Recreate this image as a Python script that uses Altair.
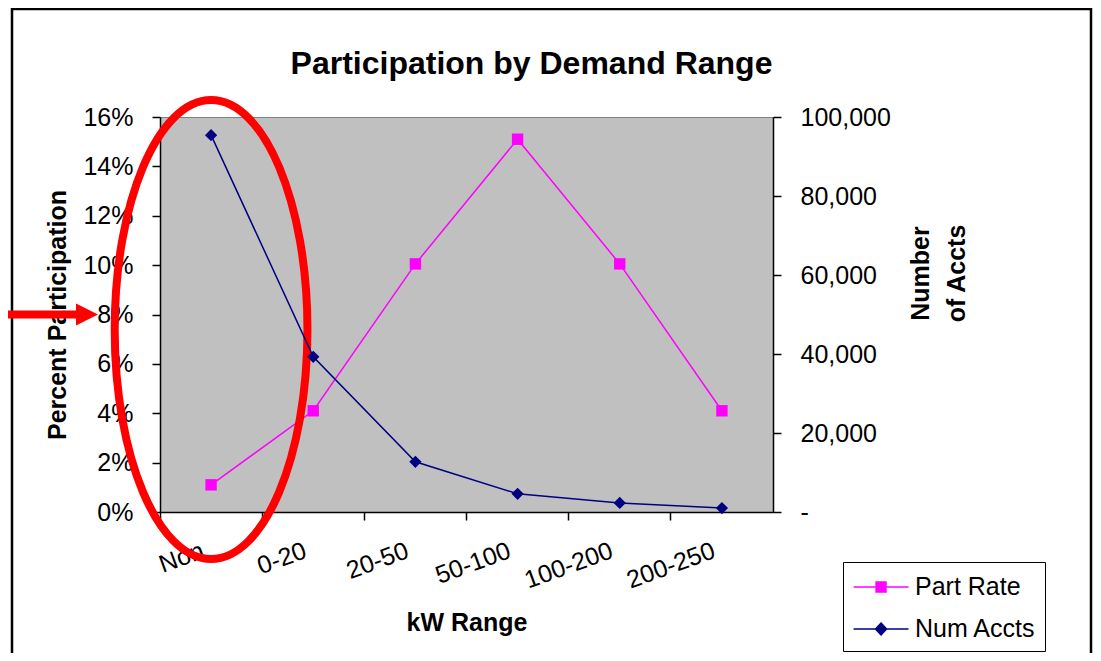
import altair as alt
import pandas as pd

# ---- data ----
categories = ["Non", "0-20", "20-50", "50-100", "100-200", "200-250"]
part_rate = [0.011, 0.041, 0.1005, 0.151, 0.1005, 0.041]
num_accts = [95400, 39300, 12700, 4600, 2300, 1000]
series_names = ["Part Rate", "Num Accts"]
series_colors = ["#FF00FF", "#000080"]

# annotation anchors (data space)
ellipse_cat = ["Non"]
ellipse_level = [0.0739]
arrow_level = [0.08]

FONT = "Liberation Sans"

df = pd.DataFrame({"category": categories, "part_rate": part_rate, "num_accts": num_accts})
ell_df = pd.DataFrame({"category": ellipse_cat, "part_rate": ellipse_level})
arr_df = pd.DataFrame({"part_rate": arrow_level})
leg_df = pd.DataFrame({"series": series_names, "category": categories[:2], "part_rate": part_rate[:2]})

x_enc = alt.X(
    "category:N",
    sort=categories,
    scale=alt.Scale(type="band", paddingInner=0, paddingOuter=0),
    title="kW Range",
    axis=alt.Axis(
        bandPosition=0, labelAngle=340, labelAlign="right", labelBaseline="top",
        labelOffset=-12, labelPadding=18, tickSize=8, titleY=110, titleBaseline="middle",
        domainWidth=1.5, tickWidth=1.5,
    ),
)

left_axis = alt.Axis(
    format=".0%", values=[0, 0.02, 0.04, 0.06, 0.08, 0.10, 0.12, 0.14, 0.16],
    tickSize=8, labelPadding=19, titleX=-103, titleY=197.5, titleAngle=270,
    titleAlign="center", titleBaseline="middle", domainWidth=1.5, tickWidth=1.5,
)
y_left = alt.Y("part_rate:Q", scale=alt.Scale(domain=[0, 0.16], nice=False),
               axis=left_axis, title="Percent Participation")

right_axis = alt.Axis(
    orient="right", values=[0, 20000, 40000, 60000, 80000, 100000],
    labelExpr="datum.value == 0 ? '-' : format(datum.value, ',')",
    tickSize=8, labelPadding=19, titleAngle=270, titleX=147, titleY=156,
    titleAlign="center", titleBaseline="middle", titleLineHeight=36,
    domainWidth=1.5, tickWidth=1.5,
)
y_right = alt.Y("num_accts:Q", scale=alt.Scale(domain=[0, 100000], nice=False),
                axis=right_axis, title=["Number", "of Accts"])

base = alt.Chart(df)

frame = alt.Chart(alt.Data(values=[{"a": 1}])).mark_rect(
    fillOpacity=0, stroke="black", strokeWidth=2.5
).encode(x=alt.value(-148), x2=alt.value(931), y=alt.value(-108), y2=alt.value(560))

pr_line = base.mark_line(color="#FF00FF", strokeWidth=1.5).encode(x=x_enc, y=y_left)
pr_pts = base.mark_point(shape="square", filled=True, color="#FF00FF", size=130, opacity=1).encode(x=x_enc, y=y_left)

ellipse_path = ("M0.42,0 C0.42,0.5523 0.232,1 0,1 C-0.232,1 -0.42,0.5523 -0.42,0 "
                "C-0.42,-0.5523 -0.232,-1 0,-1 C0.232,-1 0.42,-0.5523 0.42,0 Z")
ellipse = alt.Chart(ell_df).mark_point(
    shape=ellipse_path, filled=False, stroke="#FF0000", strokeWidth=8, size=210681, opacity=1
).encode(x=x_enc, y=y_left)

arrow_shaft = alt.Chart(arr_df).mark_rule(color="#FF0000", strokeWidth=8).encode(
    x=alt.value(-152), x2=alt.value(-82), y=y_left)
arrow_head = alt.Chart(arr_df).mark_point(
    shape="M-1,-1L1,0L-1,1Z", filled=True, color="#FF0000", size=484, opacity=1
).encode(x=alt.value(-73), y=y_left)

sym_part = "M-0.96,0L2.7,0M0.54,-0.33L1.2,-0.33L1.2,0.33L0.54,0.33Z"
sym_num = "M-0.96,0L2.7,0M0.87,-0.4L1.24,0L0.87,0.4L0.5,0Z"
legend = alt.Legend(
    title=None, orient="none", legendX=683, legendY=445, padding=9,
    strokeColor="black", fillColor="white", symbolSize=900, symbolStrokeWidth=1.5,
    labelFontSize=25, labelFont=FONT, labelColor="black", labelOffset=31,
    rowPadding=13, labelLimit=400, symbolOpacity=1,
)
legend_layer = alt.Chart(leg_df).transform_filter("false").mark_point(filled=True, strokeWidth=1.5).encode(
    x=x_enc, y=y_left,
    fill=alt.Fill("series:N", scale=alt.Scale(domain=series_names, range=series_colors), legend=legend),
    stroke=alt.Stroke("series:N", scale=alt.Scale(domain=series_names, range=series_colors), legend=legend),
    shape=alt.Shape("series:N", scale=alt.Scale(domain=series_names, range=[sym_part, sym_num]), legend=legend),
)

na_line = base.mark_line(color="#000080", strokeWidth=1.5).encode(x=x_enc, y=y_right)
na_pts = base.mark_point(shape="diamond", filled=True, color="#000080", size=150, opacity=1).encode(x=x_enc, y=y_right)

left = alt.layer(frame, pr_line, pr_pts, legend_layer, ellipse, arrow_shaft, arrow_head)
right = alt.layer(na_line, na_pts)

chart = alt.layer(left, right).resolve_scale(y="independent").properties(
    width=613, height=395,
    background="white",
    autosize=alt.AutoSizeParams(type="none"),
    padding={"left": 152, "top": 109, "right": 320, "bottom": 141},
    title=alt.Title("Participation by Demand Range", fontSize=32, font=FONT, fontWeight="bold",
                    anchor="middle", dx=65, offset=0, dy=98, baseline="alphabetic", color="black"),
).configure_view(
    fill="#C0C0C0", stroke="#808080", strokeWidth=1
).configure_axis(
    grid=False, domainColor="black", tickColor="black", labelColor="black",
    labelFont=FONT, labelFontSize=25, titleFont=FONT, titleFontSize=25,
    titleFontWeight="bold", titleColor="black",
)

chart.save("out.html", embed_options={"renderer": "svg", "actions": False})
